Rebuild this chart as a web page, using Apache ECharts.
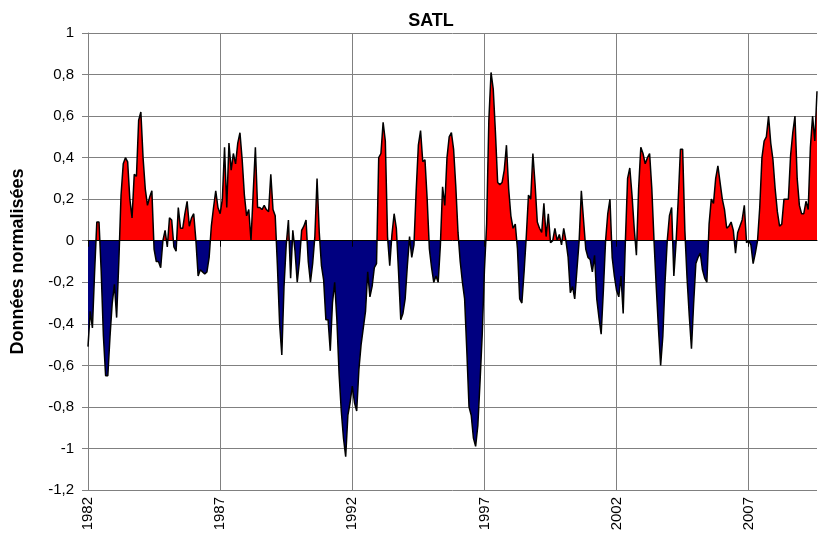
<!DOCTYPE html>
<html>
<head>
<meta charset="utf-8">
<script src="https://cdn.jsdelivr.net/npm/echarts@6/dist/echarts.min.js"></script>
<style>
html,body{margin:0;padding:0;background:#fff;}
#chart{width:821px;height:548px;}
</style>
</head>
<body>
<div id="chart"></div>
<script>
// Monthly normalised SATL index, January 1982 onwards (one row per year)
const startYear = 1982;
const values = [
  -0.51,-0.34,-0.42,-0.15,0.09,0.09,-0.15,-0.46,-0.65,-0.65,-0.46,-0.3,
  -0.21,-0.37,-0.1,0.22,0.37,0.4,0.38,0.2,0.11,0.32,0.31,0.58,
  0.62,0.4,0.25,0.17,0.21,0.24,-0.04,-0.1,-0.1,-0.13,0.0,0.05,
  -0.03,0.11,0.1,-0.03,-0.05,0.16,0.06,0.06,0.13,0.19,0.07,0.11,
  0.13,0.0,-0.17,-0.14,-0.15,-0.16,-0.15,-0.08,0.07,0.16,0.24,0.16,
  0.13,0.2,0.45,0.16,0.47,0.34,0.42,0.37,0.47,0.52,0.39,0.22,
  0.12,0.15,0.0,0.23,0.45,0.16,0.16,0.15,0.17,0.15,0.14,0.32,
  0.15,0.12,-0.12,-0.4,-0.55,-0.22,-0.02,0.1,-0.18,0.05,-0.05,-0.2,
  -0.1,0.05,0.07,0.1,-0.1,-0.2,-0.11,0.02,0.3,0.04,-0.12,-0.19,
  -0.38,-0.38,-0.53,-0.3,-0.2,-0.38,-0.64,-0.82,-0.95,-1.04,-0.84,-0.78,
  -0.7,-0.78,-0.82,-0.62,-0.5,-0.42,-0.34,-0.15,-0.27,-0.22,-0.13,-0.11,
  0.4,0.42,0.57,0.48,0.02,-0.12,0.03,0.13,0.06,-0.15,-0.38,-0.35,
  -0.28,-0.12,0.02,-0.08,-0.02,0.24,0.46,0.53,0.38,0.39,0.2,-0.04,
  -0.13,-0.2,-0.17,-0.2,-0.02,0.26,0.17,0.4,0.5,0.52,0.44,0.26,
  0.04,-0.1,-0.2,-0.28,-0.53,-0.8,-0.84,-0.95,-0.99,-0.89,-0.68,-0.45,
  -0.14,0.08,0.58,0.81,0.73,0.52,0.28,0.27,0.28,0.34,0.46,0.25,
  0.12,0.06,0.08,-0.04,-0.28,-0.3,-0.15,0.02,0.22,0.2,0.42,0.27,
  0.09,0.06,0.04,0.18,0.02,0.13,-0.01,0.0,0.06,0.0,0.03,-0.02,
  0.06,0.0,-0.08,-0.25,-0.22,-0.28,-0.14,0.0,0.24,0.1,-0.04,-0.08,
  -0.09,-0.15,-0.07,-0.28,-0.37,-0.45,-0.24,0.0,0.13,0.2,-0.08,-0.17,
  -0.24,-0.27,-0.17,-0.35,0.0,0.3,0.35,0.22,0.06,-0.07,0.25,0.45,
  0.42,0.37,0.4,0.42,0.25,0.0,-0.22,-0.42,-0.6,-0.46,-0.2,0.0,
  0.12,0.16,-0.17,-0.01,0.2,0.44,0.44,0.05,-0.18,-0.36,-0.52,-0.3,
  -0.11,-0.08,-0.06,-0.14,-0.18,-0.2,0.08,0.2,0.18,0.3,0.36,0.28,
  0.2,0.15,0.06,0.07,0.09,0.05,-0.06,0.04,0.07,0.1,0.17,-0.01,
  0.0,-0.02,-0.11,-0.06,0.0,0.16,0.4,0.48,0.5,0.6,0.47,0.39,
  0.25,0.14,0.07,0.08,0.2,0.2,0.2,0.41,0.52,0.6,0.3,0.17,
  0.13,0.13,0.19,0.15,0.45,0.6,0.48,0.72
];
// Category labels: one per month
const months = values.map((v, i) => {
  const y = startYear + Math.floor(i / 12);
  const m = (i % 12) + 1;
  return y + '-' + (m < 10 ? '0' + m : m);
});
const tickYears = ['1982', '1987', '1992', '1997', '2002', '2007'];
const labelStep = 60; // months between year labels

const FONT = '"Liberation Sans", Arial, sans-serif';
const chart = echarts.init(document.getElementById('chart'), null, {renderer: 'canvas'});
const yearOf = (s) => s.slice(0, 4);

chart.setOption({
  animation: false,
  backgroundColor: '#ffffff',
  textStyle: {fontFamily: FONT},
  title: {
    text: 'SATL',
    left: 426, top: 7, textAlign: 'center',
    textStyle: {fontFamily: FONT, fontWeight: 'bold', fontSize: 18, color: '#000'}
  },
  grid: {left: 88, right: 4, top: 33, bottom: 58, containLabel: false},
  visualMap: {
    show: false, seriesIndex: 0, dimension: 1,
    pieces: [{gt: 0, lte: 10, color: '#ff0000'}, {gte: -10, lte: 0, color: '#000080'}]
  },
  xAxis: [
    {
      type: 'category', data: months, boundaryGap: false, position: 'bottom',
      axisLine: {show: false, onZero: false}, axisTick: {show: false},
      axisLabel: {
        interval: labelStep - 1, rotate: 90, margin: 7,
        fontFamily: FONT, fontSize: 15, color: '#000',
        formatter: (v) => { const y = yearOf(v); return tickYears.indexOf(y) >= 0 ? y : ''; }
      },
      splitLine: {show: true, interval: labelStep - 1, lineStyle: {color: '#808080', width: 1}}
    },
    {
      type: 'category', data: months, boundaryGap: false, position: 'bottom', z: 10,
      axisLine: {show: true, onZero: true, lineStyle: {color: '#000', width: 1}},
      axisTick: {show: true, interval: labelStep - 1, length: 6, lineStyle: {color: '#000'}},
      axisLabel: {show: false}, splitLine: {show: false}
    }
  ],
  yAxis: {
    type: 'value', min: -1.2, max: 1, interval: 0.2,
    name: 'Données normalisées', nameLocation: 'middle', nameGap: 61, nameRotate: 90,
    nameTextStyle: {fontFamily: FONT, fontWeight: 'bold', fontSize: 18, color: '#000'},
    axisLine: {show: true, lineStyle: {color: '#808080', width: 1}},
    axisTick: {show: true, length: 6, lineStyle: {color: '#808080'}},
    axisLabel: {
      margin: 14, fontFamily: FONT, fontSize: 15, color: '#000',
      formatter: (v) => String(Math.round(v * 10) / 10).replace('.', ',')
    },
    splitLine: {show: true, lineStyle: {color: '#808080', width: 1}}
  },
  series: [
    {
      type: 'line', xAxisIndex: 0, data: values, symbol: 'none',
      lineStyle: {width: 0}, areaStyle: {opacity: 1}, silent: true, z: 2
    },
    {
      type: 'line', xAxisIndex: 0, data: values, symbol: 'none',
      lineStyle: {color: '#000', width: 1.5}, silent: true, z: 3
    }
  ]
});
</script>
</body>
</html>
